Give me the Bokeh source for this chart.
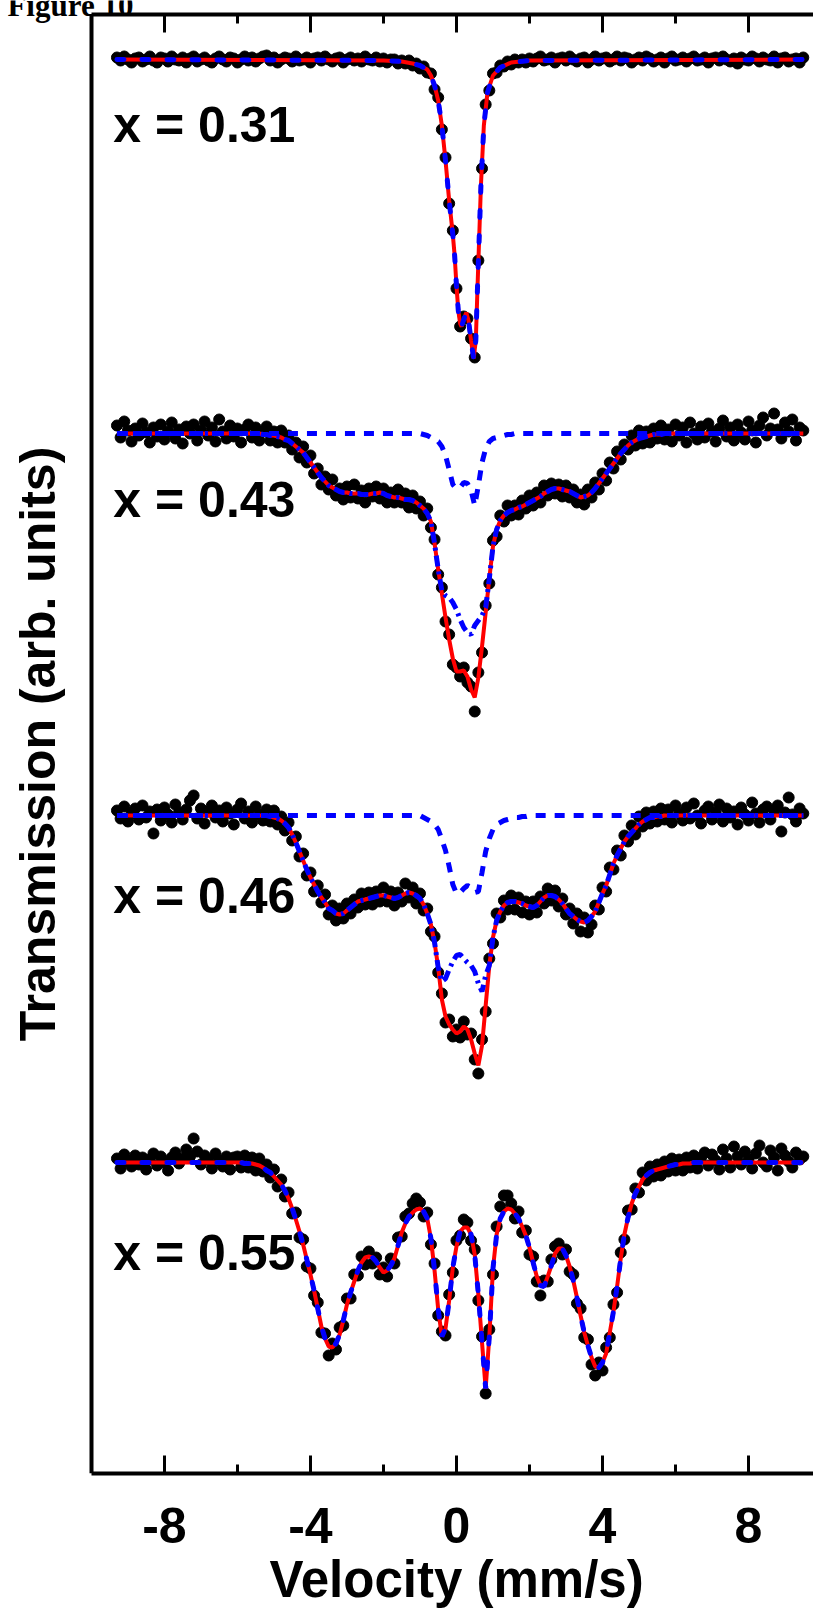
from bokeh.plotting import figure
from bokeh.models import Range1d, LinearAxis, FixedTicker, Label
from bokeh.embed import file_html
from bokeh.resources import INLINE

# ---------------------------------------------------------------------------
# Mossbauer spectra of four compositions, stacked vertically.
# Channel velocities (mm/s) shared by all measured spectra.
velocity = [
    -9.3, -9.2, -9.1, -9.0, -8.9, -8.8, -8.7, -8.6, -8.5, -8.4,
    -8.3, -8.2, -8.1, -8.0, -7.9, -7.8, -7.7, -7.6, -7.5, -7.4,
    -7.3, -7.2, -7.1, -7.0, -6.9, -6.8, -6.7, -6.6, -6.5, -6.4,
    -6.3, -6.2, -6.1, -6.0, -5.9, -5.8, -5.7, -5.6, -5.5, -5.4,
    -5.3, -5.2, -5.1, -5.0, -4.9, -4.8, -4.7, -4.6, -4.5, -4.4,
    -4.3, -4.2, -4.1, -4.0, -3.9, -3.8, -3.7, -3.6, -3.5, -3.4,
    -3.3, -3.2, -3.1, -3.0, -2.9, -2.8, -2.7, -2.6, -2.5, -2.4,
    -2.3, -2.2, -2.1, -2.0, -1.9, -1.8, -1.7, -1.6, -1.5, -1.4,
    -1.3, -1.2, -1.1, -1.0, -0.9, -0.8, -0.7, -0.6, -0.5, -0.4,
    -0.3, -0.2, -0.1, 0.0, 0.1, 0.2, 0.3, 0.4, 0.5, 0.6,
    0.7, 0.8, 0.9, 1.0, 1.1, 1.2, 1.3, 1.4, 1.5, 1.6,
    1.7, 1.8, 1.9, 2.0, 2.1, 2.2, 2.3, 2.4, 2.5, 2.6,
    2.7, 2.8, 2.9, 3.0, 3.1, 3.2, 3.3, 3.4, 3.5, 3.6,
    3.7, 3.8, 3.9, 4.0, 4.1, 4.2, 4.3, 4.4, 4.5, 4.6,
    4.7, 4.8, 4.9, 5.0, 5.1, 5.2, 5.3, 5.4, 5.5, 5.6,
    5.7, 5.8, 5.9, 6.0, 6.1, 6.2, 6.3, 6.4, 6.5, 6.6,
    6.7, 6.8, 6.9, 7.0, 7.1, 7.2, 7.3, 7.4, 7.5, 7.6,
    7.7, 7.8, 7.9, 8.0, 8.1, 8.2, 8.3, 8.4, 8.5, 8.6,
    8.7, 8.8, 8.9, 9.0, 9.1, 9.2, 9.3, 9.4, 9.5,
]

compositions = ["0.31", "0.43", "0.46", "0.55"]
# baseline of each stacked spectrum (arb. units)
baselines = [141.4, 104.0, 65.8, 31.1]

tick_values = [-8, -4, 0, 4, 8]
tick_labels = ["-8", "-4", "0", "4", "8"]
minor_tick_values = [-6, -2, 2, 6]

# ---- measured transmission, relative to each baseline (arb. units) --------
data_031 = [
    0.2, -0.1, 0.3, 0.0, -0.3, 0.1, 0.2, -0.2, 0.0, 0.3,
    -0.1, -0.3, 0.2, 0.1, -0.2, 0.3, 0.0, -0.1, 0.2, -0.3,
    0.1, 0.3, -0.2, 0.0, 0.2, -0.1, -0.3, 0.1, 0.3, 0.0,
    -0.2, 0.2, 0.1, -0.3, 0.0, 0.3, -0.1, 0.2, -0.2, 0.1,
    0.3, 0.4, -0.1, 0.2, -0.3, 0.0, 0.2, 0.1, -0.2, 0.3,
    -0.1, 0.0, 0.2, -0.3, 0.1, 0.2, -0.1, 0.3, 0.0, -0.2,
    0.1, 0.2, -0.3, 0.0, 0.2, -0.1, 0.1, -0.2, 0.3, 0.0,
    -0.1, 0.2, -0.2,
    0.1, -0.3, 0.0, 0.0, -0.4, -0.1, -0.4, -0.1, -0.6, -0.4,
    -0.9, -0.7, -1.3, -1.4, -3.0, -3.8, -7.0, -9.8, -14.4, -17.1,
    -22.9, -26.7, -25.7, -25.9, -27.9, -29.8, -20.1, -10.9, -4.5, -3.1,
    -1.4, -1.3, -0.6, -0.7, -0.2, -0.5, 0.0, -0.3, 0.0, -0.3,
    0.1,
    -0.2, 0.1, 0.3, -0.1, 0.0, 0.2, -0.3, 0.1, 0.2, -0.1,
    0.3, 0.0, -0.2, 0.1, 0.2, -0.3, 0.0, 0.3, -0.1, 0.1,
    0.2, -0.2, 0.0, 0.3, -0.1, 0.2, 0.1, -0.3, 0.0, 0.2,
    -0.1, 0.3, 0.1, -0.2, 0.0, 0.2, -0.3, 0.1, 0.3, -0.1,
    0.0, 0.2, -0.2, 0.1, 0.3, -0.1, 0.0, 0.2, -0.3, 0.1,
    0.2, -0.1, 0.3, 0.0, -0.2, 0.1, -0.4, 0.2, 0.0, -0.1,
    0.3, 0.1, -0.2, 0.2, 0.0, -0.1, 0.3, -0.3, 0.1, 0.2,
    -0.2, 0.0, 0.1, -0.3, 0.2,
]

data_043 = [
    0.8, -0.4, 1.2, 0.3, -0.8, 0.5, -0.2, 1.0, 0.1, -0.9,
    0.6, -0.3, 0.9, -0.6, 0.2, 1.1, -0.5, 0.4, -1.0, 0.7,
    0.0, 0.9, -0.7, 0.3, 1.2, -0.2, 0.6, -0.8, 1.4, 0.2,
    -0.5, 0.8, -0.3, 0.5, -0.9, 0.4, 0.9, -0.4,
    0.6, -0.7, 0.2, 0.7, -0.7, 0.2, -0.9, 0.3, -0.9, -0.2,
    -1.6, -0.9, -2.4, -1.3, -2.9, -2.2, -4.0, -3.5, -5.1, -4.3,
    -5.6, -4.6, -6.2, -5.5, -6.6, -5.3, -6.4, -5.1, -6.5, -5.7,
    -6.9, -5.5, -6.3, -5.3, -6.5, -5.5, -6.9, -5.9, -6.9, -5.6,
    -6.9, -6.0, -7.4, -6.2, -7.5, -6.8, -8.2, -7.5, -9.4, -10.6,
    -14.1, -15.4, -18.8, -20.1, -23.1, -23.4, -24.3, -23.4, -24.9, -25.3,
    -27.8, -23.9, -21.9, -17.2, -15.0, -10.7, -10.3, -8.2, -8.8, -7.2,
    -8.2, -7.2, -8.1, -6.7, -7.5, -6.2, -7.2, -5.9, -6.9, -5.2,
    -6.2, -5.0, -6.0, -5.1, -6.3, -5.2, -6.4, -5.6, -6.9, -6.1,
    -7.1, -5.6, -6.4, -4.9, -5.6, -4.0, -4.7, -2.9, -3.5, -1.8,
    -2.6, -1.1, -1.6, -0.2, -1.2, 0.3, -1.0, 0.2, -0.9, 0.5,
    -0.5, 0.8, -0.6,
    0.4, -0.8, 0.9, -0.2, 0.6, -0.9, 1.1, 0.0, -0.6, 0.7,
    -0.4, 1.0, 0.2, -0.8, 0.5, 1.3, -0.3, 0.6, -0.7, 0.9,
    0.1, -0.6, 1.2, 0.3, -0.9, 0.8, 1.6, -0.2, 0.5, 2.0,
    0.4, -0.5, 1.1, 0.2, 1.4, -0.7, 0.6, 0.3,
]

data_046 = [
    0.5, -0.3, 0.9, -0.6, 0.2, 0.7, -0.4, 1.0, -0.2, 0.4,
    -1.8, 0.6, -0.5, 0.8, 0.1, -0.7, 1.1, 0.3, -0.4, 0.6,
    1.5, 2.0, -0.3, 0.7, -0.8, 0.4, 1.0, -0.2, 0.5, -0.6,
    0.8, 0.2, -0.9, 0.6, 1.2, -0.3, 0.4, -0.7, 0.9, 0.1,
    -0.5,
    0.6, -0.6, 0.5, -0.9, -0.1, -1.5, -0.7, -2.5, -2.1, -4.1,
    -3.8, -6.0, -5.7, -7.6, -7.0, -8.7, -7.9, -9.9, -9.0, -10.5,
    -9.3, -10.3, -8.8, -9.8, -8.4, -9.2, -7.8, -8.9, -7.7, -8.9,
    -7.6, -8.6, -7.2, -8.6, -7.6, -9.0, -7.7, -8.6, -6.8, -8.2,
    -7.2, -8.8, -7.8, -9.5, -9.3, -11.6, -12.1, -15.7, -17.8, -20.7,
    -20.4, -22.1, -21.4, -22.2, -20.6, -21.9, -21.8, -24.4, -25.8, -22.4,
    -19.6, -14.3, -12.8, -9.8, -10.2, -8.5, -9.4, -8.0, -9.4, -8.2,
    -9.7, -8.6, -9.9, -8.6, -9.7, -8.1, -8.8, -7.3, -8.5, -7.5,
    -9.1, -8.3, -9.9, -9.3, -10.8, -9.8, -11.6, -10.2, -11.7, -10.9,
    -9.0, -9.4, -7.2, -7.6, -5.2, -5.4, -3.5, -4.0, -2.0, -2.6,
    -1.0, -1.9, -0.1, -1.1, 0.3, -0.8, 0.4, -0.6, 0.7, -0.4,
    0.6, -0.7, 1.0, 0.2, -0.5, 0.8, -0.3, 1.2, 0.0, -0.8,
    0.5, 0.9, -0.4, 0.3, 1.1, -0.6, 0.7, -0.2, 0.4, -0.9,
    0.8, 0.1, -0.5, 1.3, 0.2, -0.7, 0.6, 0.9, -0.4, 0.5,
    1.0, -1.6, 0.3, 1.8, 0.1, -0.6, 0.7, 0.2,
]

data_055 = [
    0.4, -0.6, 0.8, 0.1, -0.4, 0.7, -0.2, 0.5, -0.7, 0.3,
    0.9, -0.3, 0.6, 0.0, -0.8, 0.5, 1.0, -0.1, 0.4, 1.3,
    0.6, 2.4, 1.1, -0.2, 0.7, 0.3, -0.6, 0.9, 0.2, -0.4,
    0.6, -0.7, 0.5,
    0.6, -0.5, 0.7, -0.5, 0.5, -0.8, 0.4, -0.9, -0.2, -1.5,
    -0.7, -2.4, -1.7, -3.4, -3.0, -5.1, -5.0, -7.5, -7.7, -10.4,
    -10.6, -13.3, -14.0, -17.0, -17.1, -19.3, -18.1, -18.7, -16.5, -16.3,
    -13.6, -13.6, -11.2, -11.3, -9.4, -10.2, -8.9, -10.1, -9.5, -11.2,
    -10.5, -11.4, -9.6, -10.1, -7.5, -7.4, -5.4, -5.1, -4.1, -3.6,
    -4.0, -5.4, -5.0, -8.2, -10.1, -15.3, -16.9, -17.3, -13.2, -11.0,
    -7.8, -7.3, -5.7, -6.0, -7.8, -8.7, -13.8, -17.4, -23.1, -16.7,
    -11.2, -6.4, -4.4, -3.3, -3.3, -4.1, -5.6, -4.9, -7.0, -6.8,
    -9.2, -9.4, -11.9, -13.3, -11.8, -11.9, -9.7, -8.4, -8.1, -9.2,
    -8.7, -10.9, -11.2, -14.1, -14.6, -17.5, -17.7, -20.2, -21.3, -20.0,
    -20.8, -18.5, -17.5, -14.2, -13.0, -9.0, -7.7, -4.8, -4.7, -2.6,
    -3.0, -1.0, -1.8, -0.4, -1.4, -0.2, -1.3, 0.1, -0.9, 0.4,
    -0.8, 0.3, -0.8, 0.5, -0.5, 0.7,
    -0.6, 0.5, 1.0, -0.3, 0.8, 0.2, -0.7, 1.3, 0.4, -0.5,
    1.6, 0.6, -0.2, 1.1, 0.3, -0.6, 0.9, 1.7, 0.0, -0.4,
    1.2, 0.5, -0.8, 1.4, 0.7, 0.1, -0.5, 1.0, 0.3, 0.6,
]

# ---- fitted curves ---------------------------------------------------------
# x = 0.31: total fit (narrow doublet), given on its own velocity knots
fit_031_v = [-9.3, -2.0, -1.5, -1.2, -1.0, -0.9, -0.8, -0.7, -0.6, -0.5,
             -0.4, -0.3, -0.2, -0.1, -0.05, 0.0, 0.05, 0.1, 0.14, 0.2,
             0.27, 0.33, 0.4, 0.47, 0.53, 0.58, 0.62, 0.67, 0.75, 0.85,
             1.0, 1.2, 1.5, 2.0, 9.5]
fit_031 = [0.0, -0.1, -0.2, -0.4, -0.6, -0.8, -1.0, -1.6, -2.6, -4.1,
           -6.6, -10.1, -14.1, -17.5, -19.6, -22.6, -25.1, -26.4, -26.7, -26.0,
           -25.3, -26.1, -28.1, -29.9, -28.1, -22.4, -18.1, -12.6, -6.6, -3.3,
           -1.6, -0.8, -0.3, -0.1, 0.0]

# x = 0.43: total fit on the channel velocities
fit_043 = [0.0] * 38 + [
    0.0, 0.0, -0.1, -0.1, -0.2, -0.2, -0.3, -0.4, -0.6, -0.7,
    -1.0, -1.3, -1.6, -1.9, -2.4, -2.9, -3.4, -3.9, -4.4, -4.8,
    -5.2, -5.4, -5.6, -5.8, -5.9, -5.9, -6.0, -6.0, -6.0, -6.1,
    -6.1, -6.1, -6.0, -6.0, -5.9, -6.0, -6.2, -6.3, -6.4, -6.4,
    -6.5, -6.6, -6.6, -6.7, -6.9, -7.2, -7.5, -8.0, -8.8, -11.0,
    -13.6, -16.0, -18.4, -20.6, -22.5, -23.8, -23.8, -23.7, -24.3, -25.6,
    -26.4, -24.4, -21.3, -17.9, -14.5, -11.3, -9.6, -8.7, -8.2, -7.9,
    -7.7, -7.6, -7.4, -7.3, -7.1, -6.9, -6.7, -6.5, -6.3, -6.0,
    -5.8, -5.6, -5.5, -5.5, -5.6, -5.7, -5.8, -6.0, -6.2, -6.4,
    -6.3, -6.2, -5.9, -5.5, -5.0, -4.5, -4.0, -3.5, -3.0, -2.5,
    -2.0, -1.6, -1.2, -0.9, -0.7, -0.5, -0.4, -0.3, -0.2, -0.1,
    -0.1, -0.1, 0.0,
] + [0.0] * 38
# magnetic component (differs from the total between -0.4 and 0.8 mm/s)
mag_043 = fit_043[:89] + [
    -15.7, -16.2, -16.4, -16.9, -17.6, -18.6, -19.4, -19.9, -20.1, -19.2,
    -18.7, -18.2, -17.4,
] + fit_043[102:]
# paramagnetic doublet, drawn on the baseline
dbl_043 = [0.0] * 83 + [
    0.0, -0.1, -0.2, -0.4, -0.6, -0.8, -1.3, -2.2, -3.6, -5.1,
    -5.5, -5.4, -4.9, -5.0, -5.7, -7.2, -5.2, -2.9, -1.5, -0.8,
    -0.5, -0.4, -0.3, -0.2, -0.1, -0.1, 0.0,
] + [0.0] * 79

# x = 0.46
fit_046 = [0.0] * 41 + [
    0.0, -0.1, -0.2, -0.3, -0.5, -0.8, -1.2, -1.9, -2.7, -3.6,
    -4.5, -5.4, -6.2, -6.9, -7.6, -8.2, -8.7, -9.3, -9.5, -9.8,
    -9.9, -9.8, -9.5, -9.2, -8.9, -8.6, -8.5, -8.4, -8.3, -8.2,
    -8.1, -8.0, -8.0, -8.1, -8.2, -8.3, -8.2, -8.0, -7.8, -7.7,
    -7.8, -8.0, -8.3, -8.9, -9.8, -10.9, -12.7, -15.2, -18.4, -20.1,
    -20.9, -21.4, -21.8, -21.6, -21.1, -21.4, -22.4, -23.8, -25.0, -23.0,
    -19.0, -15.0, -12.2, -10.5, -9.6, -9.0, -8.7, -8.6, -8.6, -8.7,
    -8.8, -9.0, -9.1, -9.2, -9.0, -8.6, -8.2, -8.0, -8.0, -8.1,
    -8.4, -8.8, -9.3, -9.8, -10.1, -10.4, -10.6, -10.7, -10.5, -10.1,
    -9.6, -8.7, -7.8, -7.0, -5.9, -4.8, -4.0, -3.3, -2.6, -2.1,
    -1.7, -1.3, -0.9, -0.6, -0.4, -0.2, -0.2, -0.1, -0.1, 0.0,
] + [0.0] * 38
mag_046 = fit_046[:89] + [
    -16.6, -16.3, -15.4, -14.6, -14.0, -13.9, -14.3, -14.7, -15.0, -15.6,
    -16.8, -17.6, -16.0,
] + fit_046[102:]
dbl_046 = [0.0] * 83 + [
    0.0, -0.2, -0.4, -0.6, -0.9, -1.4, -2.4, -3.5, -5.1, -6.9,
    -7.8, -7.7, -7.3, -7.0, -7.2, -7.7, -7.6, -5.7, -3.6, -2.3,
    -1.4, -0.9, -0.7, -0.5, -0.4, -0.3, -0.2, -0.2, -0.1, -0.1,
    0.0,
] + [0.0] * 75

# x = 0.55: magnetic sextet
fit_055 = [0.0] * 33 + [
    0.0, 0.0, -0.1, -0.1, -0.1, -0.2, -0.3, -0.5, -0.8, -1.0,
    -1.4, -1.8, -2.2, -2.8, -3.6, -4.6, -5.7, -6.9, -8.2, -9.7,
    -11.2, -12.8, -14.6, -16.4, -17.6, -18.4, -18.5, -18.1, -17.2, -15.8,
    -14.2, -13.0, -11.9, -10.8, -10.0, -9.5, -9.4, -9.5, -9.9, -10.5,
    -11.0, -10.8, -10.3, -9.6, -8.3, -7.0, -6.1, -5.4, -5.0, -4.7,
    -4.6, -4.9, -5.6, -7.6, -10.8, -14.7, -17.4, -16.6, -13.8, -10.5,
    -8.4, -6.9, -6.5, -6.5, -7.2, -9.2, -13.2, -18.0, -22.6, -17.4,
    -10.6, -7.2, -5.6, -4.9, -4.6, -4.7, -5.1, -5.6, -6.4, -7.3,
    -8.5, -10.0, -11.4, -12.3, -12.4, -11.4, -10.3, -9.1, -8.6, -8.6,
    -9.3, -10.4, -11.8, -13.5, -15.3, -17.0, -18.3, -19.5, -20.4, -20.5,
    -20.0, -19.1, -17.0, -14.9, -12.4, -9.6, -7.2, -5.5, -4.1, -3.1,
    -2.4, -1.7, -1.3, -1.0, -0.8, -0.7, -0.6, -0.5, -0.4, -0.3,
    -0.2, -0.2, -0.1, -0.1, -0.1, 0.0,
] + [0.0] * 30

for arr in (data_031, data_043, data_046, data_055, fit_043, mag_043,
            dbl_043, fit_046, mag_046, dbl_046, fit_055):
    assert len(arr) == len(velocity), len(arr)


def shifted(values, base):
    return [base + v for v in values]


RED = "#ff0000"
BLUE = "#0000ff"
FONT = "Liberation Sans"

# plotted box: velocity -10 .. 9.78 mm/s, transmission 0 .. 145.9 (arb.)
V_LO, V_HI = -10.0, 9.78
T_LO, T_HI = 0.0, 145.9

# The frame reaches the top and left page edges so that the caption in the
# corner can be drawn; the left and top axes are pinned to the box edges.
p = figure(
    width=813, height=1610,
    x_range=Range1d(-12.49, V_HI), y_range=Range1d(T_LO, 147.3),
    output_backend="svg", toolbar_location=None,
    min_border_left=0, min_border_right=0,
    min_border_top=0, min_border_bottom=137,
)
p.outline_line_color = None
p.xgrid.visible = False
p.ygrid.visible = False
p.background_fill_color = "white"
p.border_fill_color = "white"

ticker = FixedTicker(ticks=tick_values, minor_ticks=minor_tick_values)
overrides = {t: s for t, s in zip(tick_values, tick_labels)}

xa = p.xaxis[0]
xa.bounds = (V_LO, V_HI)
xa.ticker = ticker
xa.major_label_overrides = overrides
xa.axis_line_width = 4
xa.major_tick_in = 18
xa.major_tick_out = 0
xa.minor_tick_in = 9
xa.minor_tick_out = 0
xa.major_tick_line_width = 3
xa.minor_tick_line_width = 3
xa.major_label_text_font = FONT
xa.major_label_text_font_style = "bold"
xa.major_label_text_font_size = "50px"
xa.major_label_text_color = "black"
xa.major_label_standoff = 34
# the title is centred on the whole frame; non-breaking spaces in front move
# it under the middle of the bounded axis
xa.axis_label = "\u00a0" * 7 + "Velocity (mm/s)"
xa.axis_label_text_font = FONT
xa.axis_label_text_font_style = "bold"
xa.axis_label_text_font_size = "51px"
xa.axis_label_text_color = "black"
xa.axis_label_standoff = 5

top = LinearAxis(
    fixed_location=T_HI, bounds=(V_LO, V_HI),
    ticker=ticker, axis_line_width=4,
    major_tick_in=18, major_tick_out=0, minor_tick_in=9, minor_tick_out=0,
    major_tick_line_width=3, minor_tick_line_width=3,
    major_label_text_font_size="0px", major_label_standoff=0,
)
p.add_layout(top, "above")

ya = p.yaxis[0]
ya.fixed_location = V_LO
ya.bounds = (T_LO, T_HI)
ya.ticker = FixedTicker(ticks=[])
ya.axis_line_width = 4
ya.major_tick_in = 0
ya.major_tick_out = 0
ya.minor_tick_in = 0
ya.minor_tick_out = 0
ya.major_label_text_font_size = "0px"
ya.major_label_standoff = 0
ya.axis_label = "Transmission (arb. units)"
ya.axis_label_text_font = FONT
ya.axis_label_text_font_style = "bold"
ya.axis_label_text_font_size = "50px"
ya.axis_label_text_color = "black"
ya.axis_label_standoff = 26

# ---- spectra ---------------------------------------------------------------
# x = 0.31
b = baselines[0]
p.scatter(velocity, shifted(data_031, b), size=11, color="black")
p.line(fit_031_v, shifted(fit_031, b), line_color=RED, line_width=4)
p.line(fit_031_v, shifted(fit_031, b), line_color=BLUE, line_width=5,
       line_dash="7 18", line_cap="round")

# x = 0.43 and x = 0.46 (magnetic part + paramagnetic doublet)
for data, fit, mag, dbl, b in ((data_043, fit_043, mag_043, dbl_043, baselines[1]),
                               (data_046, fit_046, mag_046, dbl_046, baselines[2])):
    p.scatter(velocity, shifted(data, b), size=11, color="black")
    p.line(velocity, shifted(fit, b), line_color=RED, line_width=4)
    p.line(velocity, shifted(mag, b), line_color=BLUE, line_width=5,
           line_dash="11 5 3 5")
    p.line(velocity, shifted(dbl, b), line_color=BLUE, line_width=5,
           line_dash="10 9")

# x = 0.55
b = baselines[3]
p.scatter(velocity, shifted(data_055, b), size=11, color="black")
p.line(velocity, shifted(fit_055, b), line_color=RED, line_width=4)
p.line(velocity, shifted(fit_055, b), line_color=BLUE, line_width=5,
       line_dash="7 18", line_cap="round")

# ---- text ------------------------------------------------------------------
label_y = [134.9, 97.4, 57.8, 22.1]
for comp, ly in zip(compositions, label_y):
    p.add_layout(Label(x=-9.4, y=ly, text=f"x = {comp}", text_font=FONT,
                       text_font_style="bold", text_font_size="50px",
                       text_color="black",
                       text_align="left", text_baseline="alphabetic"))

# caption in the top-left corner, running off the top of the page
p.add_layout(Label(x=-12.3, y=146.8, text="Figure 10",
                   text_font="Liberation Serif", text_font_style="bold",
                   text_font_size="31px", text_color="black",
                   text_align="left", text_baseline="alphabetic"))

open("out.html", "w").write(file_html(p, INLINE))
